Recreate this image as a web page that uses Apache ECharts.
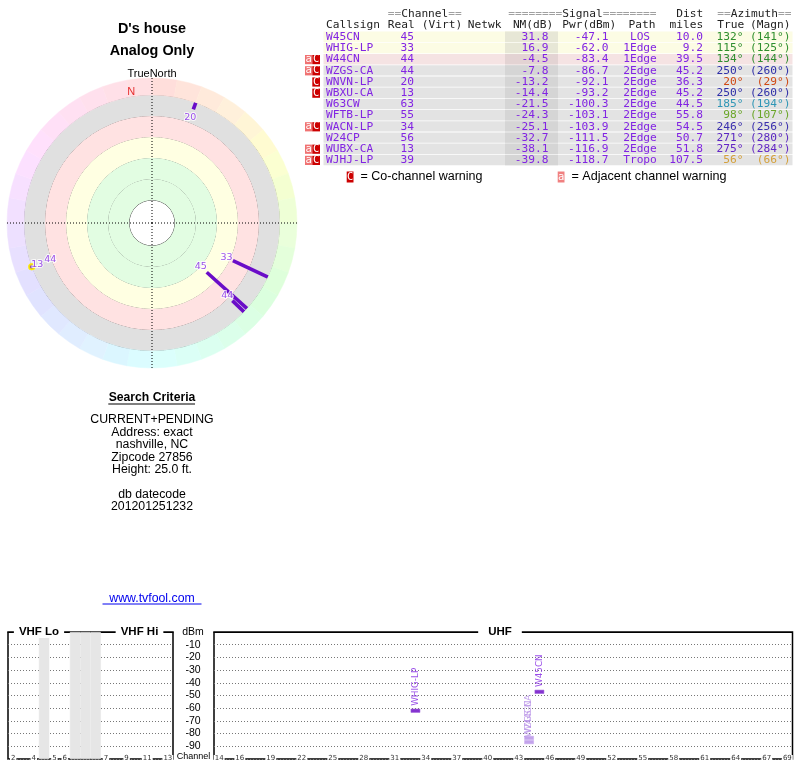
<!DOCTYPE html>
<html><head><meta charset="utf-8">
<script src="https://cdn.jsdelivr.net/npm/echarts@6/dist/echarts.min.js"></script>
<style>html,body{margin:0;padding:0;background:#fff}#c{width:800px;height:768px}</style>
</head><body><div id="c"></div>
<script>
// ---------------- data ----------------
const callsigns    = ['W45CN','WHIG-LP','W44CN','WZGS-CA','WNVN-LP','WBXU-CA','W63CW','WFTB-LP','WACN-LP','W24CP','WUBX-CA','WJHJ-LP'];
const realChannels = [45,33,44,44,20,13,63,55,34,56,13,39];
const noiseMargin  = [31.8,16.9,-4.5,-7.8,-13.2,-14.4,-21.5,-24.3,-25.1,-32.7,-38.1,-39.8];
const powerDbm     = [-47.1,-62.0,-83.4,-86.7,-92.1,-93.2,-100.3,-103.1,-103.9,-111.5,-116.9,-118.7];
const paths        = ['LOS','1Edge','1Edge','2Edge','2Edge','2Edge','2Edge','2Edge','2Edge','2Edge','2Edge','Tropo'];
const distMiles    = [10.0,9.2,39.5,45.2,36.3,45.2,44.5,55.8,54.5,50.7,51.8,107.5];
const azTrue       = [132,115,134,250,20,250,185,98,246,271,275,56];
const azMagn       = [141,125,144,260,29,260,194,107,256,280,284,66];
const adjWarn      = [false,false,true,true,false,false,false,false,true,false,true,true];
const coWarn       = [false,false,true,true,true,true,false,false,true,false,true,true];

const vhfCategories = ['2','3','4','gap1','5','6','gap2','gap3','gap4','7','8','9','10','11','12','13'];
const vhfTickLabels = ['2','4','5','6','7','9','11','13'];
const uhfCategories = ['14','15','16','17','18','19','20','21','22','23','24','25','26','27','28','29','30','31','32','33','34','35','36','37','38','39','40','41','42','43','44','45','46','47','48','49','50','51','52','53','54','55','56','57','58','59','60','61','62','63','64','65','66','67','68','69'];
const uhfTickLabels = ['14','16','19','22','25','28','31','34','37','40','43','46','49','52','55','58','61','64','67','69'];
const spectrumFloor = -90;

const searchLines = ['CURRENT+PENDING','Address: exact','nashville, NC','Zipcode 27856','Height: 25.0 ft.','','db datecode','201201251232'];

// ---------------- style ----------------
const rowShade   = ['y','y','p','g','g','g','g','g','g','g','g','g'];
const shadeBg    = {y:'#fcfce4', p:'#f5e3e3', g:'#e3e3e3'};
const shadeNm    = {y:'#e7e7d6', p:'#e3d3d3', g:'#d5d5d5'};
const azColors   = ['#2f8f2f','#2f8f2f','#2f8f2f','#2f2fa8','#d04a14','#2f2fa8','#2f96b6','#6aa628','#3a2fae','#5a26c2','#6426c6','#d4a03a'];
const polarMark  = ['line','line','line','dot','line','dot','none','none','none','none','none','none'];
const labelInset = [8,7,7,7,9,0,0,0,0,0,0,0];
const compassRing = ['hsl(5,100%,93%)','hsl(15,100%,93%)','hsl(25,100%,93%)','hsl(35,100%,93%)','hsl(45,100%,92%)','hsl(55,100%,91%)','hsl(65,100%,91%)','hsl(75,100%,91%)','hsl(85,100%,92%)','hsl(95,100%,93%)','hsl(105,100%,93%)','hsl(115,100%,93%)','hsl(125,100%,93%)','hsl(135,100%,93%)','hsl(145,100%,93%)','hsl(155,100%,93%)','hsl(165,100%,93%)','hsl(175,100%,93%)','hsl(185,100%,93%)','hsl(195,100%,93%)','hsl(205,100%,94%)','hsl(215,100%,94%)','hsl(225,100%,94%)','hsl(235,100%,94%)','hsl(245,100%,94%)','hsl(255,100%,94%)','hsl(265,100%,94%)','hsl(275,100%,94%)','hsl(285,100%,94%)','hsl(295,100%,94%)','hsl(305,100%,94%)','hsl(315,100%,94%)','hsl(325,100%,94%)','hsl(335,100%,94%)','hsl(345,100%,94%)','hsl(355,100%,94%)'];
const PURPLE = '#8224e3', LINEP = '#6a0cc8', LIGHTP = '#b48ce6';
const MONO = '"DejaVu Sans Mono", monospace';
const SANS = '"Liberation Sans", Arial, sans-serif';
const CX = 152, CY = 223;

// ---------------- graphic (texts / table) ----------------
const G = [];
function txt(x, y, text, font, fill, align, extra) {
  G.push({type:'text', x:x, y:y, silent:true, z:100,
    style:Object.assign({text:text, font:font, fill:fill, align:align||'left', verticalAlign:'middle'}, extra||{})});
}
function rect(x, y, w, h, fill) {
  G.push({type:'rect', silent:true, z:99, shape:{x:x, y:y, width:w, height:h}, style:{fill:fill}});
}
function hline(x1, x2, y, color, w) {
  G.push({type:'line', silent:true, z:100, shape:{x1:x1, y1:y, x2:x2, y2:y}, style:{stroke:color, lineWidth:w}});
}
// left block
txt(152, 29.3, "D's house", 'bold 14.4px ' + SANS, '#000', 'center');
txt(152, 51.3, 'Analog Only', 'bold 14.4px ' + SANS, '#000', 'center');
txt(152, 74, 'TrueNorth', '11px ' + SANS, '#000', 'center');
txt(152, 397.3, 'Search Criteria', 'bold 12.2px ' + SANS, '#000', 'center');
hline(108.3, 195, 404, '#000', 1.2);
searchLines.forEach((s, i) => { if (s) txt(152, 420 + i * 12.4, s, '12.3px ' + SANS, '#000', 'center'); });
txt(152, 598.3, 'www.tvfool.com', '12.3px ' + SANS, '#0000ee', 'center');
hline(102.5, 201.5, 604, '#0000ee', 1);

// table headers
const MF = '11.2px ' + MONO, CW = 6.74;
const HC = '#222', EQ = '#a0a0a0';
txt(387.7, 14, '==', MF, EQ); txt(387.7 + 2*CW, 14, 'Channel', MF, HC); txt(387.7 + 9*CW, 14, '==', MF, EQ);
txt(508.3, 14, '========', MF, EQ); txt(508.3 + 8*CW, 14, 'Signal', MF, HC); txt(508.3 + 14*CW, 14, '========', MF, EQ);
txt(703.3, 14, 'Dist', MF, HC, 'right');
txt(717.3, 14, '==', MF, EQ); txt(717.3 + 2*CW, 14, 'Azimuth', MF, HC); txt(717.3 + 9*CW, 14, '==', MF, EQ);
txt(326, 25.5, 'Callsign', MF, HC);
txt(387.7, 25.5, 'Real', MF, HC);
txt(421.7, 25.5, '(Virt)', MF, HC);
txt(467.7, 25.5, 'Netwk', MF, HC);
txt(553.3, 25.5, 'NM(dB)', MF, HC, 'right');
txt(562.3, 25.5, 'Pwr(dBm)', MF, HC);
txt(642, 25.5, 'Path', MF, HC, 'center');
txt(703.3, 25.5, 'miles', MF, HC, 'right');
txt(717.3, 25.5, 'True', MF, HC);
txt(790.5, 25.5, '(Magn)', MF, HC, 'right');

callsigns.forEach((cs, i) => {
  const y = 37.1 + 11.2 * i;
  rect(323.5, y - 5.5, 469, 10.4, shadeBg[rowShade[i]]);
  rect(505, y - 5.5, 53, 10.4, shadeNm[rowShade[i]]);
  txt(326, y, cs, MF, PURPLE);
  txt(414, y, String(realChannels[i]), MF, PURPLE, 'right');
  txt(548.5, y, noiseMargin[i].toFixed(1), MF, PURPLE, 'right');
  txt(608.5, y, powerDbm[i].toFixed(1), MF, PURPLE, 'right');
  txt(640, y, paths[i], MF, PURPLE, 'center');
  txt(703, y, distMiles[i].toFixed(1), MF, PURPLE, 'right');
  txt(743.5, y, azTrue[i] + '°', MF, azColors[i], 'right');
  txt(790.5, y, '(' + azMagn[i] + '°)', MF, azColors[i], 'right');
  if (adjWarn[i]) { rect(305, y - 4.5, 7.3, 9.2, '#f07272'); txt(308.7, y, 'a', '10.5px ' + MONO, '#fff', 'center'); }
  if (coWarn[i])  { rect(312.3, y - 4.5, 7.7, 9.2, '#cc0000'); txt(316.2, y, 'C', '10.5px ' + MONO, '#fff', 'center'); }
});
// legend
rect(346.7, 171.5, 6.8, 11, '#cc0000'); txt(350.1, 177, 'C', '10.5px ' + MONO, '#fff', 'center');
txt(360.5, 177, '= Co-channel warning', '12.5px ' + SANS, '#000');
rect(557.7, 171.5, 6.8, 11, '#f08080'); txt(561.1, 177, 'a', '10.5px ' + MONO, '#fff', 'center');
txt(571.5, 177, '= Adjacent channel warning', '12.6px ' + SANS, '#000');

// spectrum titles
const TF = 'bold 11.5px ' + SANS;
txt(39, 632, 'VHF Lo', TF, '#000', 'center', {backgroundColor:'#fff', padding:[0,5]});
txt(139.5, 632, 'VHF Hi', TF, '#000', 'center', {backgroundColor:'#fff', padding:[0,5]});
txt(500, 632, 'UHF', TF, '#000', 'center', {backgroundColor:'#fff', padding:[0,10]});
txt(193, 632.3, 'dBm', '10.5px ' + SANS, '#000', 'center');
txt(193.5, 757, 'Channel', '9px ' + SANS, '#000', 'center');

// ---------------- series ----------------
const series = [];
// compass hue ring
series.push({type:'pie', center:[CX, CY], radius:[128, 145], startAngle:90, clockwise:true, silent:true, z:1,
  animation:false, label:{show:false}, labelLine:{show:false}, emphasis:{disabled:true},
  data: compassRing.map(c => ({value:1, itemStyle:{color:c, borderColor:c, borderWidth:0.5}}))});

const OUTER_NM = -20;
callsigns.forEach((cs, i) => {
  if (polarMark[i] === 'line') {
    series.push({type:'line', coordinateSystem:'polar', polarIndex:0, symbol:'none', silent:true, z:5, animation:false,
      lineStyle:{color:LINEP, width:3.6}, data:[[noiseMargin[i], azTrue[i]], [OUTER_NM, azTrue[i]]]});
  }
});
// dots
series.push({type:'scatter', coordinateSystem:'polar', polarIndex:0, silent:true, z:6, animation:false,
  symbol:'circle', symbolSize:5,
  itemStyle:{color:LINEP, borderColor:'#ffee00', borderWidth:2},
  data: callsigns.map((c, i) => polarMark[i] === 'dot' ? [OUTER_NM, azTrue[i]] : null).filter(d => d)});
// channel labels
series.push({type:'scatter', coordinateSystem:'polar', polarIndex:0, silent:true, z:7, animation:false,
  symbolSize:1, itemStyle:{color:'rgba(0,0,0,0)'},
  label:{show:true, position:'inside', color:PURPLE, fontFamily:'DejaVu Sans', fontSize:9.5,
    textBorderColor:'#fff', textBorderWidth:2},
  data: callsigns.map((c, i) => {
    if (polarMark[i] === 'none') return null;
    const a = azTrue[i] * Math.PI / 180, k = labelInset[i];
    return {value:[noiseMargin[i], azTrue[i]], label:{formatter:String(realChannels[i]), offset:[-k*Math.sin(a), k*Math.cos(a)]}};
  }).filter(d => d)});
// magnetic north marker
const magNorth = (360 + azTrue[0] - azMagn[0]) % 360;
(function(){
  const a = magNorth * Math.PI / 180;
  series.push({type:'scatter', coordinateSystem:'polar', polarIndex:0, silent:true, z:7, animation:false,
    symbolSize:1, itemStyle:{color:'rgba(0,0,0,0)'},
    label:{show:true, position:'inside', formatter:'N', color:'#e00000', fontFamily:'Liberation Sans', fontSize:11,
      offset:[5*Math.sin(a), -5*Math.cos(a)]},
    data:[[OUTER_NM, magNorth]]});
})();

// spectrum gap bands
series.push({type:'bar', xAxisIndex:0, yAxisIndex:0, silent:true, animation:false, barCategoryGap:'0%', z:1,
  itemStyle:{color:'#e6e6e6', borderColor:'#e6e6e6', borderWidth:0.5},
  data: vhfCategories.map(c => c.indexOf('gap') === 0 ? -100 : '-')});
// spectrum station marks
function specData(isUhf) {
  const out = [];
  callsigns.forEach((cs, i) => {
    const ch = realChannels[i];
    if (powerDbm[i] <= spectrumFloor) return;
    if ((ch >= 14) !== isUhf) return;
    const light = coWarn[i];
    out.push({value:[String(ch), powerDbm[i]], name:cs,
      itemStyle:{color: light ? LIGHTP : '#6600c4', borderColor: light ? '#c8a8ee' : '#9a5ad8', borderWidth:0.6},
      label:{color: light ? LIGHTP : PURPLE}});
  });
  return out;
}
const specLabel = {show:true, position:'top', distance:3, rotate:90, align:'left', verticalAlign:'middle',
  fontFamily:'DejaVu Sans', fontSize:8.8, formatter: p => p.name};
series.push({type:'scatter', xAxisIndex:0, yAxisIndex:0, symbol:'rect', symbolSize:[9,3.4], silent:true, z:5, animation:false,
  label:specLabel, data:specData(false)});
series.push({type:'scatter', xAxisIndex:1, yAxisIndex:1, symbol:'rect', symbolSize:[9,3.4], silent:true, z:5, animation:false,
  label:specLabel, data:specData(true)});

// ---------------- axes ----------------
const hidden = {axisLine:{show:false}, axisTick:{show:false}, axisLabel:{show:false}, splitLine:{show:false}};
const xLabel = (ticks) => ({show:true, interval:(idx, val) => ticks.indexOf(val) >= 0, margin:-4,
  fontSize:7, fontFamily:'DejaVu Sans', color:'#333', backgroundColor:'#fff', padding:[0,1]});
const yCommon = {type:'value', min:-100, max:0, interval:10,
  axisLine:{show:false}, axisTick:{show:false},
  splitLine:{show:true, lineStyle:{color:'#777', type:[1,2], width:1}}};

const option = {
  animation:false,
  polar:[{center:[CX, CY], radius:[23, 128]}, {center:[CX, CY], radius:[0, 145]}],
  angleAxis:[
    Object.assign({polarIndex:0, type:'value', min:0, max:360, startAngle:90, clockwise:true}, hidden),
    Object.assign({polarIndex:1, type:'value', min:0, max:360, interval:90, startAngle:90, clockwise:true, z:3}, hidden,
      {splitLine:{show:true, lineStyle:{color:'#000', type:[1,2], width:1}}})
  ],
  radiusAxis:[
    {polarIndex:0, type:'value', min:-20, max:80, interval:20, inverse:true,
      axisLine:{show:false}, axisTick:{show:false}, axisLabel:{show:false},
      splitLine:{show:true, lineStyle:{color:'#4a4a4a', width:1}},
      splitArea:{show:true, areaStyle:{color:['#e0e0e0','#ffe2e2','#ffffe2','#e2fde2','#e2fde2']}}},
    Object.assign({polarIndex:1, type:'value', min:0, max:1}, hidden)
  ],
  grid:[
    {left:8, top:632, width:165, height:127, show:true, borderColor:'#000', borderWidth:1.5, backgroundColor:'#fff'},
    {left:214, top:632, width:578.5, height:127, show:true, borderColor:'#000', borderWidth:1.5, backgroundColor:'#fff'}
  ],
  xAxis:[
    {gridIndex:0, type:'category', data:vhfCategories, boundaryGap:true,
      axisLine:{show:true, lineStyle:{color:'#000', width:1.2}}, axisTick:{show:false}, axisLabel:xLabel(vhfTickLabels)},
    {gridIndex:1, type:'category', data:uhfCategories, boundaryGap:true,
      axisLine:{show:true, lineStyle:{color:'#000', width:1.2}}, axisTick:{show:false}, axisLabel:xLabel(uhfTickLabels)}
  ],
  yAxis:[
    Object.assign({gridIndex:0}, yCommon, {axisLabel:{show:false}}),
    Object.assign({gridIndex:1}, yCommon, {axisLabel:{show:true, showMinLabel:false, showMaxLabel:false, align:'center', margin:21,
      fontSize:10.5, fontFamily:'Liberation Sans', color:'#000'}})
  ],
  graphic:{elements:G},
  series:series
};
const chart = echarts.init(document.getElementById('c'));
chart.setOption(option);
</script>
</body></html>
